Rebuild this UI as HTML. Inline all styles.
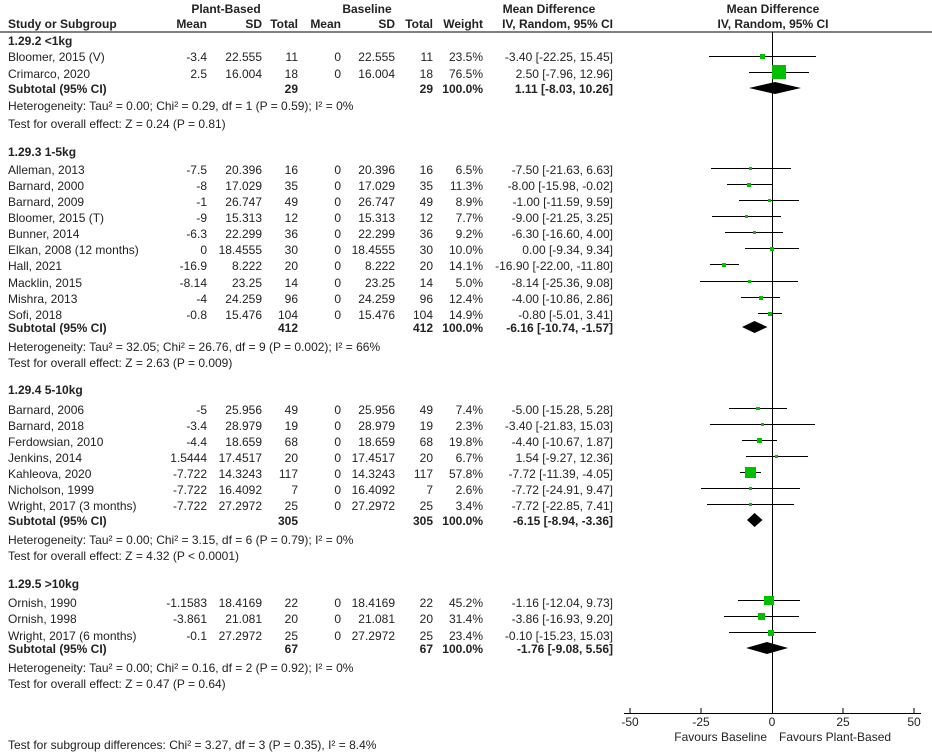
<!DOCTYPE html>
<html><head><meta charset="utf-8"><style>
html,body{margin:0;padding:0;background:#fff;}
svg{display:block;}
text{font-family:"Liberation Sans",Arial,sans-serif;font-size:12px;fill:#222;}
.b{font-weight:bold;}
.r{text-anchor:end;}
.m{text-anchor:middle;}
</style></head><body>
<svg width="932" height="752" viewBox="0 0 932 752" xmlns="http://www.w3.org/2000/svg">
<!-- headers -->
<text class="b m" x="226" y="13">Plant-Based</text>
<text class="b m" x="367" y="13">Baseline</text>
<text class="b m" x="549" y="13">Mean Difference</text>
<text class="b m" x="773" y="13">Mean Difference</text>
<text class="b" x="8" y="28">Study or Subgroup</text>
<text class="b r" x="207" y="28">Mean</text>
<text class="b r" x="262" y="28">SD</text>
<text class="b r" x="298" y="28">Total</text>
<text class="b r" x="341" y="28">Mean</text>
<text class="b r" x="395" y="28">SD</text>
<text class="b r" x="433" y="28">Total</text>
<text class="b r" x="483" y="28">Weight</text>
<text class="b r" x="613" y="28">IV, Random, 95% CI</text>
<text class="b m" x="773" y="28">IV, Random, 95% CI</text>
<line x1="0" y1="32" x2="932" y2="32" stroke="#000" stroke-width="1"/>
<!-- zero line + axis -->
<line x1="772.5" y1="32" x2="772.5" y2="713" stroke="#000"/>
<line x1="624" y1="713.5" x2="921" y2="713.5" stroke="#000"/>
<g stroke="#000">
<line x1="630" y1="708" x2="630" y2="713"/><line x1="701" y1="708" x2="701" y2="713"/>
<line x1="843" y1="708" x2="843" y2="713"/><line x1="914" y1="708" x2="914" y2="713"/>
</g>
<text class="m" x="630" y="726">-50</text><text class="m" x="701" y="726">-25</text>
<text class="m" x="772" y="726">0</text><text class="m" x="843" y="726">25</text><text class="m" x="914" y="726">50</text>
<text class="r" x="767" y="741">Favours Baseline</text>
<text x="779" y="741">Favours Plant-Based</text>
<text x="8" y="749">Test for subgroup differences: Chi² = 3.27, df = 3 (P = 0.35), I² = 8.4%</text>

<!-- Group 1 -->
<text class="b" x="8" y="45">1.29.2 &lt;1kg</text>
<g id="rows">
</g>
<text x="8" y="61">Bloomer, 2015 (V)</text><text class="r" x="207" y="61">-3.4</text><text class="r" x="262" y="61">22.555</text><text class="r" x="298" y="61">11</text><text class="r" x="341" y="61">0</text><text class="r" x="395" y="61">22.555</text><text class="r" x="433" y="61">11</text><text class="r" x="483" y="61">23.5%</text><text class="r" x="613" y="61">-3.40 [-22.25, 15.45]</text>
<text x="8" y="78">Crimarco, 2020</text><text class="r" x="207" y="78">2.5</text><text class="r" x="262" y="78">16.004</text><text class="r" x="298" y="78">18</text><text class="r" x="341" y="78">0</text><text class="r" x="395" y="78">16.004</text><text class="r" x="433" y="78">18</text><text class="r" x="483" y="78">76.5%</text><text class="r" x="613" y="78">2.50 [-7.96, 12.96]</text>
<text class="b" x="8" y="93">Subtotal (95% CI)</text><text class="b r" x="298" y="93">29</text><text class="b r" x="433" y="93">29</text><text class="b r" x="483" y="93">100.0%</text><text class="b r" x="613" y="93">1.11 [-8.03, 10.26]</text>
<text x="8" y="110">Heterogeneity: Tau² = 0.00; Chi² = 0.29, df = 1 (P = 0.59); I² = 0%</text>
<text x="8" y="128">Test for overall effect: Z = 0.24 (P = 0.81)</text>

<!-- Group 2 -->
<text class="b" x="8" y="156">1.29.3 1-5kg</text>
<text x="8" y="174">Alleman, 2013</text><text class="r" x="207" y="174">-7.5</text><text class="r" x="262" y="174">20.396</text><text class="r" x="298" y="174">16</text><text class="r" x="341" y="174">0</text><text class="r" x="395" y="174">20.396</text><text class="r" x="433" y="174">16</text><text class="r" x="483" y="174">6.5%</text><text class="r" x="613" y="174">-7.50 [-21.63, 6.63]</text>
<text x="8" y="190">Barnard, 2000</text><text class="r" x="207" y="190">-8</text><text class="r" x="262" y="190">17.029</text><text class="r" x="298" y="190">35</text><text class="r" x="341" y="190">0</text><text class="r" x="395" y="190">17.029</text><text class="r" x="433" y="190">35</text><text class="r" x="483" y="190">11.3%</text><text class="r" x="613" y="190">-8.00 [-15.98, -0.02]</text>
<text x="8" y="206">Barnard, 2009</text><text class="r" x="207" y="206">-1</text><text class="r" x="262" y="206">26.747</text><text class="r" x="298" y="206">49</text><text class="r" x="341" y="206">0</text><text class="r" x="395" y="206">26.747</text><text class="r" x="433" y="206">49</text><text class="r" x="483" y="206">8.9%</text><text class="r" x="613" y="206">-1.00 [-11.59, 9.59]</text>
<text x="8" y="222">Bloomer, 2015 (T)</text><text class="r" x="207" y="222">-9</text><text class="r" x="262" y="222">15.313</text><text class="r" x="298" y="222">12</text><text class="r" x="341" y="222">0</text><text class="r" x="395" y="222">15.313</text><text class="r" x="433" y="222">12</text><text class="r" x="483" y="222">7.7%</text><text class="r" x="613" y="222">-9.00 [-21.25, 3.25]</text>
<text x="8" y="238">Bunner, 2014</text><text class="r" x="207" y="238">-6.3</text><text class="r" x="262" y="238">22.299</text><text class="r" x="298" y="238">36</text><text class="r" x="341" y="238">0</text><text class="r" x="395" y="238">22.299</text><text class="r" x="433" y="238">36</text><text class="r" x="483" y="238">9.2%</text><text class="r" x="613" y="238">-6.30 [-16.60, 4.00]</text>
<text x="8" y="254">Elkan, 2008 (12 months)</text><text class="r" x="207" y="254">0</text><text class="r" x="262" y="254">18.4555</text><text class="r" x="298" y="254">30</text><text class="r" x="341" y="254">0</text><text class="r" x="395" y="254">18.4555</text><text class="r" x="433" y="254">30</text><text class="r" x="483" y="254">10.0%</text><text class="r" x="613" y="254">0.00 [-9.34, 9.34]</text>
<text x="8" y="270">Hall, 2021</text><text class="r" x="207" y="270">-16.9</text><text class="r" x="262" y="270">8.222</text><text class="r" x="298" y="270">20</text><text class="r" x="341" y="270">0</text><text class="r" x="395" y="270">8.222</text><text class="r" x="433" y="270">20</text><text class="r" x="483" y="270">14.1%</text><text class="r" x="613" y="270">-16.90 [-22.00, -11.80]</text>
<text x="8" y="287">Macklin, 2015</text><text class="r" x="207" y="287">-8.14</text><text class="r" x="262" y="287">23.25</text><text class="r" x="298" y="287">14</text><text class="r" x="341" y="287">0</text><text class="r" x="395" y="287">23.25</text><text class="r" x="433" y="287">14</text><text class="r" x="483" y="287">5.0%</text><text class="r" x="613" y="287">-8.14 [-25.36, 9.08]</text>
<text x="8" y="303">Mishra, 2013</text><text class="r" x="207" y="303">-4</text><text class="r" x="262" y="303">24.259</text><text class="r" x="298" y="303">96</text><text class="r" x="341" y="303">0</text><text class="r" x="395" y="303">24.259</text><text class="r" x="433" y="303">96</text><text class="r" x="483" y="303">12.4%</text><text class="r" x="613" y="303">-4.00 [-10.86, 2.86]</text>
<text x="8" y="319">Sofi, 2018</text><text class="r" x="207" y="319">-0.8</text><text class="r" x="262" y="319">15.476</text><text class="r" x="298" y="319">104</text><text class="r" x="341" y="319">0</text><text class="r" x="395" y="319">15.476</text><text class="r" x="433" y="319">104</text><text class="r" x="483" y="319">14.9%</text><text class="r" x="613" y="319">-0.80 [-5.01, 3.41]</text>
<text class="b" x="8" y="332">Subtotal (95% CI)</text><text class="b r" x="298" y="332">412</text><text class="b r" x="433" y="332">412</text><text class="b r" x="483" y="332">100.0%</text><text class="b r" x="613" y="332">-6.16 [-10.74, -1.57]</text>
<text x="8" y="351">Heterogeneity: Tau² = 32.05; Chi² = 26.76, df = 9 (P = 0.002); I² = 66%</text>
<text x="8" y="367">Test for overall effect: Z = 2.63 (P = 0.009)</text>

<!-- Group 3 -->
<text class="b" x="8" y="394">1.29.4 5-10kg</text>
<text x="8" y="414">Barnard, 2006</text><text class="r" x="207" y="414">-5</text><text class="r" x="262" y="414">25.956</text><text class="r" x="298" y="414">49</text><text class="r" x="341" y="414">0</text><text class="r" x="395" y="414">25.956</text><text class="r" x="433" y="414">49</text><text class="r" x="483" y="414">7.4%</text><text class="r" x="613" y="414">-5.00 [-15.28, 5.28]</text>
<text x="8" y="430">Barnard, 2018</text><text class="r" x="207" y="430">-3.4</text><text class="r" x="262" y="430">28.979</text><text class="r" x="298" y="430">19</text><text class="r" x="341" y="430">0</text><text class="r" x="395" y="430">28.979</text><text class="r" x="433" y="430">19</text><text class="r" x="483" y="430">2.3%</text><text class="r" x="613" y="430">-3.40 [-21.83, 15.03]</text>
<text x="8" y="446">Ferdowsian, 2010</text><text class="r" x="207" y="446">-4.4</text><text class="r" x="262" y="446">18.659</text><text class="r" x="298" y="446">68</text><text class="r" x="341" y="446">0</text><text class="r" x="395" y="446">18.659</text><text class="r" x="433" y="446">68</text><text class="r" x="483" y="446">19.8%</text><text class="r" x="613" y="446">-4.40 [-10.67, 1.87]</text>
<text x="8" y="462">Jenkins, 2014</text><text class="r" x="207" y="462">1.5444</text><text class="r" x="262" y="462">17.4517</text><text class="r" x="298" y="462">20</text><text class="r" x="341" y="462">0</text><text class="r" x="395" y="462">17.4517</text><text class="r" x="433" y="462">20</text><text class="r" x="483" y="462">6.7%</text><text class="r" x="613" y="462">1.54 [-9.27, 12.36]</text>
<text x="8" y="478">Kahleova, 2020</text><text class="r" x="207" y="478">-7.722</text><text class="r" x="262" y="478">14.3243</text><text class="r" x="298" y="478">117</text><text class="r" x="341" y="478">0</text><text class="r" x="395" y="478">14.3243</text><text class="r" x="433" y="478">117</text><text class="r" x="483" y="478">57.8%</text><text class="r" x="613" y="478">-7.72 [-11.39, -4.05]</text>
<text x="8" y="494">Nicholson, 1999</text><text class="r" x="207" y="494">-7.722</text><text class="r" x="262" y="494">16.4092</text><text class="r" x="298" y="494">7</text><text class="r" x="341" y="494">0</text><text class="r" x="395" y="494">16.4092</text><text class="r" x="433" y="494">7</text><text class="r" x="483" y="494">2.6%</text><text class="r" x="613" y="494">-7.72 [-24.91, 9.47]</text>
<text x="8" y="510">Wright, 2017 (3 months)</text><text class="r" x="207" y="510">-7.722</text><text class="r" x="262" y="510">27.2972</text><text class="r" x="298" y="510">25</text><text class="r" x="341" y="510">0</text><text class="r" x="395" y="510">27.2972</text><text class="r" x="433" y="510">25</text><text class="r" x="483" y="510">3.4%</text><text class="r" x="613" y="510">-7.72 [-22.85, 7.41]</text>
<text class="b" x="8" y="525">Subtotal (95% CI)</text><text class="b r" x="298" y="525">305</text><text class="b r" x="433" y="525">305</text><text class="b r" x="483" y="525">100.0%</text><text class="b r" x="613" y="525">-6.15 [-8.94, -3.36]</text>
<text x="8" y="544">Heterogeneity: Tau² = 0.00; Chi² = 3.15, df = 6 (P = 0.79); I² = 0%</text>
<text x="8" y="560">Test for overall effect: Z = 4.32 (P &lt; 0.0001)</text>

<!-- Group 4 -->
<text class="b" x="8" y="588">1.29.5 &gt;10kg</text>
<text x="8" y="607">Ornish, 1990</text><text class="r" x="207" y="607">-1.1583</text><text class="r" x="262" y="607">18.4169</text><text class="r" x="298" y="607">22</text><text class="r" x="341" y="607">0</text><text class="r" x="395" y="607">18.4169</text><text class="r" x="433" y="607">22</text><text class="r" x="483" y="607">45.2%</text><text class="r" x="613" y="607">-1.16 [-12.04, 9.73]</text>
<text x="8" y="623">Ornish, 1998</text><text class="r" x="207" y="623">-3.861</text><text class="r" x="262" y="623">21.081</text><text class="r" x="298" y="623">20</text><text class="r" x="341" y="623">0</text><text class="r" x="395" y="623">21.081</text><text class="r" x="433" y="623">20</text><text class="r" x="483" y="623">31.4%</text><text class="r" x="613" y="623">-3.86 [-16.93, 9.20]</text>
<text x="8" y="640">Wright, 2017 (6 months)</text><text class="r" x="207" y="640">-0.1</text><text class="r" x="262" y="640">27.2972</text><text class="r" x="298" y="640">25</text><text class="r" x="341" y="640">0</text><text class="r" x="395" y="640">27.2972</text><text class="r" x="433" y="640">25</text><text class="r" x="483" y="640">23.4%</text><text class="r" x="613" y="640">-0.10 [-15.23, 15.03]</text>
<text class="b" x="8" y="653">Subtotal (95% CI)</text><text class="b r" x="298" y="653">67</text><text class="b r" x="433" y="653">67</text><text class="b r" x="483" y="653">100.0%</text><text class="b r" x="613" y="653">-1.76 [-9.08, 5.56]</text>
<text x="8" y="672">Heterogeneity: Tau² = 0.00; Chi² = 0.16, df = 2 (P = 0.92); I² = 0%</text>
<text x="8" y="688">Test for overall effect: Z = 0.47 (P = 0.64)</text>

<!-- CI lines -->
<g stroke="#000" stroke-width="1">
<line x1="709" y1="56.5" x2="816" y2="56.5"/>
<line x1="749" y1="72.5" x2="809" y2="72.5"/>
<line x1="711" y1="168.5" x2="791" y2="168.5"/>
<line x1="727" y1="184.5" x2="772" y2="184.5"/>
<line x1="739" y1="200.5" x2="799" y2="200.5"/>
<line x1="712" y1="216.5" x2="781" y2="216.5"/>
<line x1="725" y1="232.5" x2="783" y2="232.5"/>
<line x1="745" y1="248.5" x2="799" y2="248.5"/>
<line x1="710" y1="264.5" x2="739" y2="264.5"/>
<line x1="700" y1="281.5" x2="798" y2="281.5"/>
<line x1="741" y1="297.5" x2="780" y2="297.5"/>
<line x1="758" y1="313.5" x2="782" y2="313.5"/>
<line x1="729" y1="408.5" x2="787" y2="408.5"/>
<line x1="710" y1="424.5" x2="815" y2="424.5"/>
<line x1="742" y1="440.5" x2="777" y2="440.5"/>
<line x1="746" y1="456.5" x2="808" y2="456.5"/>
<line x1="740" y1="472.5" x2="761" y2="472.5"/>
<line x1="701" y1="488.5" x2="800" y2="488.5"/>
<line x1="707" y1="504.5" x2="794" y2="504.5"/>
<line x1="738" y1="600.5" x2="800" y2="600.5"/>
<line x1="724" y1="616.5" x2="799" y2="616.5"/>
<line x1="729" y1="632.5" x2="816" y2="632.5"/>
</g>
<!-- squares -->
<g fill="#00c000">
<rect x="760" y="54" width="5" height="5"/>
<rect x="772" y="65" width="14" height="14"/>
<rect x="749" y="167" width="3" height="3"/>
<rect x="747" y="183" width="4" height="4"/>
<rect x="768" y="199" width="3" height="3"/>
<rect x="745" y="215" width="3" height="3"/>
<rect x="753" y="231" width="3" height="3"/>
<rect x="770" y="247" width="4" height="4"/>
<rect x="722" y="263" width="4" height="4"/>
<rect x="748" y="280" width="3" height="3"/>
<rect x="759" y="296" width="4" height="4"/>
<rect x="768" y="312" width="4" height="4"/>
<rect x="756" y="407" width="4" height="3"/>
<rect x="761" y="423" width="3" height="3"/>
<rect x="757" y="438" width="5" height="5"/>
<rect x="775" y="455" width="3" height="3"/>
<rect x="745" y="467" width="11" height="11"/>
<rect x="749" y="487" width="3" height="3"/>
<rect x="749" y="503" width="3" height="3"/>
<rect x="764" y="596" width="10" height="9"/>
<rect x="758" y="613" width="7" height="7"/>
<rect x="768" y="630" width="6" height="6"/>
</g>
<!-- diamonds -->
<g fill="#000">
<polygon points="749,88 775,82 801,88 775,94"/>
<polygon points="742,327 754.5,321 767.5,327 754.5,333"/>
<polygon points="747,520 754.6,513 762.5,520 754.6,527"/>
<polygon points="746,648 767,642 788,648 767,654"/>
</g>
</svg>
</body></html>
